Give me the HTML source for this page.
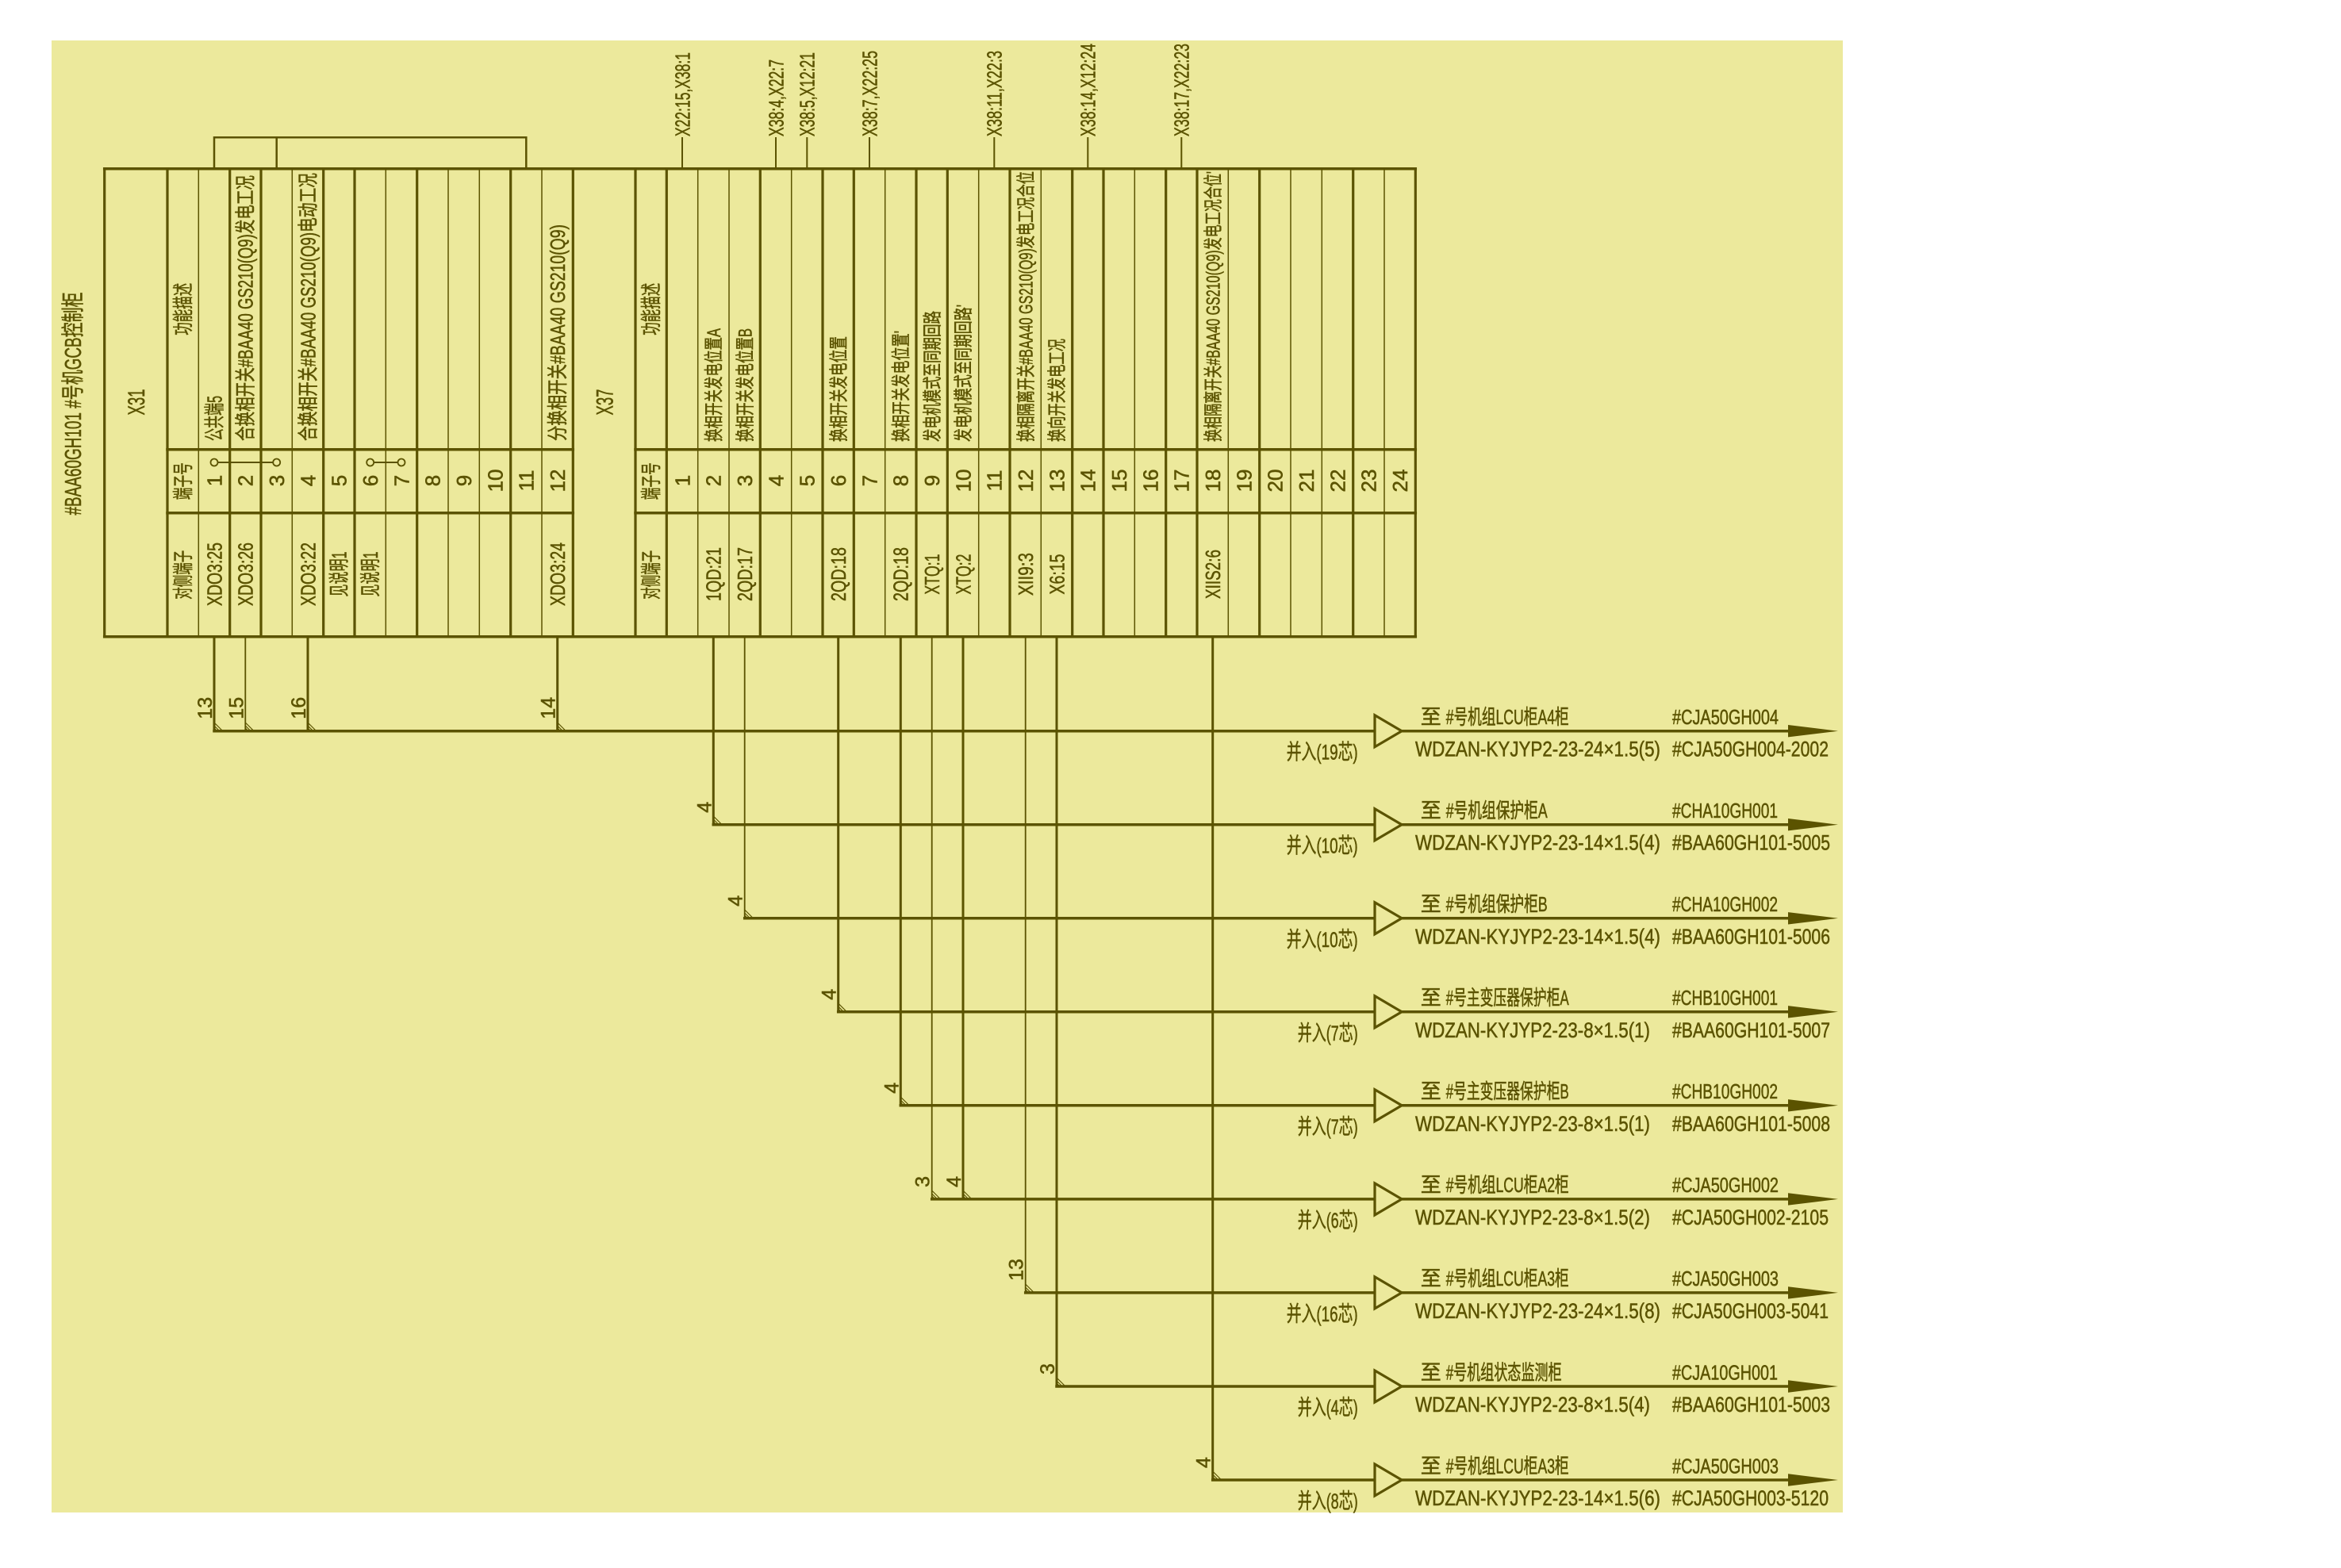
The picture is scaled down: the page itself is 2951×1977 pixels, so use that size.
<!DOCTYPE html>
<html><head><meta charset="utf-8">
<style>
html,body{margin:0;padding:0;background:#fff;}
svg{display:block;}
text{font-family:"Liberation Sans Narrow","Liberation Sans","Noto Sans CJK SC",sans-serif;fill:#5b5300;stroke:#5b5300;stroke-width:0.55;}
</style></head>
<body>
<svg width="2951" height="1977" viewBox="0 0 2951 1977" xmlns="http://www.w3.org/2000/svg">
<rect x="0" y="0" width="2951" height="1977" fill="#ffffff"/>
<rect x="65" y="51" width="2258" height="1856" fill="#ECE99C"/>
<g stroke="#5b5300" fill="none" stroke-linecap="square">
<polyline points="270,212.7 270,173.3 663.3,173.3 663.3,212.7" stroke-width="2.5"/>
<line x1="348.7" y1="173.3" x2="348.7" y2="212.7" stroke-width="2.5"/>
<g stroke-width="2">
<line x1="860" y1="174" x2="860" y2="212.7"/>
<line x1="978" y1="174" x2="978" y2="212.7"/>
<line x1="1017.3" y1="174" x2="1017.3" y2="212.7"/>
<line x1="1096" y1="174" x2="1096" y2="212.7"/>
<line x1="1253.3" y1="174" x2="1253.3" y2="212.7"/>
<line x1="1371.3" y1="174" x2="1371.3" y2="212.7"/>
<line x1="1489.3" y1="174" x2="1489.3" y2="212.7"/>
</g>
<line x1="131.7" y1="212.7" x2="1784.3" y2="212.7" stroke-width="3.5"/>
<line x1="131.7" y1="802.7" x2="1784.3" y2="802.7" stroke-width="3.5"/>
<line x1="211" y1="566.7" x2="722.3" y2="566.7" stroke-width="3.5"/>
<line x1="211" y1="646.7" x2="722.3" y2="646.7" stroke-width="3.5"/>
<line x1="801" y1="566.7" x2="1784.3" y2="566.7" stroke-width="3.5"/>
<line x1="801" y1="646.7" x2="1784.3" y2="646.7" stroke-width="3.5"/>
<g stroke-width="3.2">
<line x1="131.7" y1="212.7" x2="131.7" y2="802.7"/>
<line x1="211" y1="212.7" x2="211" y2="802.7"/>
<line x1="289.7" y1="212.7" x2="289.7" y2="802.7"/>
<line x1="329" y1="212.7" x2="329" y2="802.7"/>
<line x1="407.7" y1="212.7" x2="407.7" y2="802.7"/>
<line x1="447" y1="212.7" x2="447" y2="802.7"/>
<line x1="525.7" y1="212.7" x2="525.7" y2="802.7"/>
<line x1="643.7" y1="212.7" x2="643.7" y2="802.7"/>
<line x1="722.3" y1="212.7" x2="722.3" y2="802.7"/>
<line x1="801" y1="212.7" x2="801" y2="802.7"/>
<line x1="840.3" y1="212.7" x2="840.3" y2="802.7"/>
<line x1="958.3" y1="212.7" x2="958.3" y2="802.7"/>
<line x1="1037" y1="212.7" x2="1037" y2="802.7"/>
<line x1="1076.3" y1="212.7" x2="1076.3" y2="802.7"/>
<line x1="1155" y1="212.7" x2="1155" y2="802.7"/>
<line x1="1194.3" y1="212.7" x2="1194.3" y2="802.7"/>
<line x1="1273" y1="212.7" x2="1273" y2="802.7"/>
<line x1="1351.7" y1="212.7" x2="1351.7" y2="802.7"/>
<line x1="1391" y1="212.7" x2="1391" y2="802.7"/>
<line x1="1469.7" y1="212.7" x2="1469.7" y2="802.7"/>
<line x1="1509" y1="212.7" x2="1509" y2="802.7"/>
<line x1="1587.7" y1="212.7" x2="1587.7" y2="802.7"/>
<line x1="1705.7" y1="212.7" x2="1705.7" y2="802.7"/>
<line x1="1784.3" y1="212.7" x2="1784.3" y2="802.7"/>
</g>
<g stroke-width="1.5">
<line x1="250.3" y1="212.7" x2="250.3" y2="802.7"/>
<line x1="368.3" y1="212.7" x2="368.3" y2="802.7"/>
<line x1="486.3" y1="212.7" x2="486.3" y2="802.7"/>
<line x1="565" y1="212.7" x2="565" y2="802.7"/>
<line x1="604.3" y1="212.7" x2="604.3" y2="802.7"/>
<line x1="683" y1="212.7" x2="683" y2="802.7"/>
<line x1="879.7" y1="212.7" x2="879.7" y2="802.7"/>
<line x1="919" y1="212.7" x2="919" y2="802.7"/>
<line x1="997.7" y1="212.7" x2="997.7" y2="802.7"/>
<line x1="1115.7" y1="212.7" x2="1115.7" y2="802.7"/>
<line x1="1233.7" y1="212.7" x2="1233.7" y2="802.7"/>
<line x1="1312.3" y1="212.7" x2="1312.3" y2="802.7"/>
<line x1="1430.3" y1="212.7" x2="1430.3" y2="802.7"/>
<line x1="1548.3" y1="212.7" x2="1548.3" y2="802.7"/>
<line x1="1627" y1="212.7" x2="1627" y2="802.7"/>
<line x1="1666.3" y1="212.7" x2="1666.3" y2="802.7"/>
<line x1="1745" y1="212.7" x2="1745" y2="802.7"/>
</g>
<line x1="270" y1="583" x2="348.7" y2="583" stroke-width="2"/>
<line x1="466.7" y1="583" x2="506" y2="583" stroke-width="2"/>
<g fill="#ECE99C" stroke-width="1.8">
<circle cx="270" cy="583" r="4.5"/><circle cx="348.7" cy="583" r="4.5"/>
<circle cx="466.7" cy="583" r="4.5"/><circle cx="506" cy="583" r="4.5"/>
</g>
<g stroke-width="3">
<line x1="270" y1="802.7" x2="270" y2="921.7"/>
<line x1="309.3" y1="802.7" x2="309.3" y2="921.7" stroke-width="1.8"/>
<line x1="388" y1="802.7" x2="388" y2="921.7"/>
<line x1="702.7" y1="802.7" x2="702.7" y2="921.7"/>
<line x1="899.3" y1="802.7" x2="899.3" y2="1039.7"/>
<line x1="938.7" y1="802.7" x2="938.7" y2="1157.8" stroke-width="1.8"/>
<line x1="1056.7" y1="802.7" x2="1056.7" y2="1275.8"/>
<line x1="1135.3" y1="802.7" x2="1135.3" y2="1393.8"/>
<line x1="1174.7" y1="802.7" x2="1174.7" y2="1511.9" stroke-width="1.8"/>
<line x1="1214" y1="802.7" x2="1214" y2="1511.9"/>
<line x1="1292.7" y1="802.7" x2="1292.7" y2="1629.9" stroke-width="1.8"/>
<line x1="1332" y1="802.7" x2="1332" y2="1748"/>
<line x1="1528.7" y1="802.7" x2="1528.7" y2="1866"/>
</g>
<g stroke-width="3.5">
<line x1="270" y1="921.7" x2="2256" y2="921.7"/>
<line x1="899.3" y1="1039.7" x2="2256" y2="1039.7"/>
<line x1="938.7" y1="1157.8" x2="2256" y2="1157.8"/>
<line x1="1056.7" y1="1275.8" x2="2256" y2="1275.8"/>
<line x1="1135.3" y1="1393.8" x2="2256" y2="1393.8"/>
<line x1="1174.7" y1="1511.9" x2="2256" y2="1511.9"/>
<line x1="1292.7" y1="1629.9" x2="2256" y2="1629.9"/>
<line x1="1332" y1="1748" x2="2256" y2="1748"/>
<line x1="1528.7" y1="1866" x2="2256" y2="1866"/>
</g>
<g stroke-width="1.2">
<path d="M270 911 l10 10 M270 915 l6 6 M270 918 l3 3"/>
<path d="M309.3 911 l10 10 M309.3 915 l6 6 M309.3 918 l3 3"/>
<path d="M388 911 l10 10 M388 915 l6 6 M388 918 l3 3"/>
<path d="M702.7 911 l10 10 M702.7 915 l6 6 M702.7 918 l3 3"/>
<path d="M899.3 1029 l10 10 M899.3 1033 l6 6 M899.3 1036 l3 3"/>
<path d="M938.7 1147 l10 10 M938.7 1151 l6 6 M938.7 1154 l3 3"/>
<path d="M1056.7 1265 l10 10 M1056.7 1269 l6 6 M1056.7 1272 l3 3"/>
<path d="M1135.3 1383 l10 10 M1135.3 1387 l6 6 M1135.3 1390 l3 3"/>
<path d="M1174.7 1501 l10 10 M1174.7 1505 l6 6 M1174.7 1508 l3 3"/>
<path d="M1214 1501 l10 10 M1214 1505 l6 6 M1214 1508 l3 3"/>
<path d="M1292.7 1619 l10 10 M1292.7 1623 l6 6 M1292.7 1626 l3 3"/>
<path d="M1332 1737 l10 10 M1332 1741 l6 6 M1332 1744 l3 3"/>
<path d="M1528.7 1855 l10 10 M1528.7 1859 l6 6 M1528.7 1862 l3 3"/>
</g>
<g fill="#ECE99C" stroke-width="3.2" stroke-linejoin="miter">
<polygon points="1733,901.7 1767,921.7 1733,941.7"/>
<polygon points="1733,1019.7 1767,1039.7 1733,1059.7"/>
<polygon points="1733,1137.8 1767,1157.8 1733,1177.8"/>
<polygon points="1733,1255.8 1767,1275.8 1733,1295.8"/>
<polygon points="1733,1373.8 1767,1393.8 1733,1413.8"/>
<polygon points="1733,1491.9 1767,1511.9 1733,1531.9"/>
<polygon points="1733,1609.9 1767,1629.9 1733,1649.9"/>
<polygon points="1733,1728 1767,1748 1733,1768"/>
<polygon points="1733,1846 1767,1866 1733,1886"/>
</g>
</g>
<g fill="#5b5300">
<polygon points="2254,914 2317,921.7 2254,929.4"/>
<polygon points="2254,1032 2317,1039.7 2254,1047.4"/>
<polygon points="2254,1150.1 2317,1157.8 2254,1165.5"/>
<polygon points="2254,1268.1 2317,1275.8 2254,1283.5"/>
<polygon points="2254,1386.1 2317,1393.8 2254,1401.5"/>
<polygon points="2254,1504.2 2317,1511.9 2254,1519.6"/>
<polygon points="2254,1622.2 2317,1629.9 2254,1637.6"/>
<polygon points="2254,1740.3 2317,1748 2254,1755.7"/>
<polygon points="2254,1858.3 2317,1866 2254,1873.7"/>
</g>

<g font-size="26" lengthAdjust="spacingAndGlyphs">
<text font-size="29" transform="translate(102,649.5) rotate(-90)" textLength="281" lengthAdjust="spacingAndGlyphs">#BAA60GH101  #号机GCB控制柜</text>
<text font-size="30" text-anchor="middle" transform="translate(182,507) rotate(-90)" textLength="33" lengthAdjust="spacingAndGlyphs">X31</text>
<text font-size="30" text-anchor="middle" transform="translate(772.5,507) rotate(-90)" textLength="33" lengthAdjust="spacingAndGlyphs">X37</text>
<text transform="translate(869.3,172) rotate(-90)" textLength="106" lengthAdjust="spacingAndGlyphs">X22:15,X38:1</text>
<text transform="translate(987.3,172) rotate(-90)" textLength="97" lengthAdjust="spacingAndGlyphs">X38:4,X22:7</text>
<text transform="translate(1026.6,172) rotate(-90)" textLength="106" lengthAdjust="spacingAndGlyphs">X38:5,X12:21</text>
<text transform="translate(1105.3,172) rotate(-90)" textLength="108" lengthAdjust="spacingAndGlyphs">X38:7,X22:25</text>
<text transform="translate(1262.6,172) rotate(-90)" textLength="108" lengthAdjust="spacingAndGlyphs">X38:11,X22:3</text>
<text transform="translate(1380.6,172) rotate(-90)" textLength="117" lengthAdjust="spacingAndGlyphs">X38:14,X12:24</text>
<text transform="translate(1498.6,172) rotate(-90)" textLength="117" lengthAdjust="spacingAndGlyphs">X38:17,X22:23</text>
<text text-anchor="middle" transform="translate(239.9,389.7) rotate(-90)" textLength="66" lengthAdjust="spacingAndGlyphs">功能描述</text>
<text text-anchor="middle" transform="translate(239.9,606.7) rotate(-90)" textLength="47" lengthAdjust="spacingAndGlyphs">端子号</text>
<text text-anchor="middle" transform="translate(239.9,724.7) rotate(-90)" textLength="62" lengthAdjust="spacingAndGlyphs">对侧端子</text>
<text text-anchor="middle" transform="translate(829.9,389.7) rotate(-90)" textLength="66" lengthAdjust="spacingAndGlyphs">功能描述</text>
<text text-anchor="middle" transform="translate(829.9,606.7) rotate(-90)" textLength="47" lengthAdjust="spacingAndGlyphs">端子号</text>
<text text-anchor="middle" transform="translate(829.9,724.7) rotate(-90)" textLength="62" lengthAdjust="spacingAndGlyphs">对侧端子</text>
<text transform="translate(279.3,556) rotate(-90)" textLength="57" lengthAdjust="spacingAndGlyphs">公共端5</text>
<text transform="translate(318.6,556) rotate(-90)" textLength="335" lengthAdjust="spacingAndGlyphs">合换相开关#BAA40  GS210(Q9)发电工况</text>
<text transform="translate(397.3,556) rotate(-90)" textLength="338" lengthAdjust="spacingAndGlyphs">合换相开关#BAA40  GS210(Q9)电动工况</text>
<text transform="translate(712,556) rotate(-90)" textLength="273" lengthAdjust="spacingAndGlyphs">分换相开关#BAA40  GS210(Q9)</text>
<g font-size="24">
<text transform="translate(907.9,557) rotate(-90)" textLength="143" lengthAdjust="spacingAndGlyphs">换相开关发电位置A</text>
<text transform="translate(947.3,557) rotate(-90)" textLength="143" lengthAdjust="spacingAndGlyphs">换相开关发电位置B</text>
<text transform="translate(1065.3,557) rotate(-90)" textLength="133" lengthAdjust="spacingAndGlyphs">换相开关发电位置</text>
<text transform="translate(1143.9,557) rotate(-90)" textLength="140" lengthAdjust="spacingAndGlyphs">换相开关发电位置'</text>
<text transform="translate(1183.3,557) rotate(-90)" textLength="165" lengthAdjust="spacingAndGlyphs">发电机模式至同期回路</text>
<text transform="translate(1222.6,557) rotate(-90)" textLength="173" lengthAdjust="spacingAndGlyphs">发电机模式至同期回路'</text>
<text transform="translate(1301.3,557) rotate(-90)" textLength="341" lengthAdjust="spacingAndGlyphs">换相隔离开关#BAA40  GS210(Q9)发电工况合位</text>
<text transform="translate(1340.6,557) rotate(-90)" textLength="130" lengthAdjust="spacingAndGlyphs">换向开关发电工况</text>
<text transform="translate(1537.3,557) rotate(-90)" textLength="341" lengthAdjust="spacingAndGlyphs">换相隔离开关#BAA40  GS210(Q9)发电工况合位'</text>
</g>
<g text-anchor="middle">
<text transform="translate(279.3,606) rotate(-90)">1</text>
<text transform="translate(318.6,606) rotate(-90)">2</text>
<text transform="translate(358,606) rotate(-90)">3</text>
<text transform="translate(397.3,606) rotate(-90)">4</text>
<text transform="translate(436.6,606) rotate(-90)">5</text>
<text transform="translate(476,606) rotate(-90)">6</text>
<text transform="translate(515.3,606) rotate(-90)">7</text>
<text transform="translate(554.6,606) rotate(-90)">8</text>
<text transform="translate(594,606) rotate(-90)">9</text>
<text transform="translate(633.3,606) rotate(-90)">10</text>
<text transform="translate(672.6,606) rotate(-90)">11</text>
<text transform="translate(712,606) rotate(-90)">12</text>
<text transform="translate(869.3,606) rotate(-90)">1</text>
<text transform="translate(908.6,606) rotate(-90)">2</text>
<text transform="translate(948,606) rotate(-90)">3</text>
<text transform="translate(987.3,606) rotate(-90)">4</text>
<text transform="translate(1026.6,606) rotate(-90)">5</text>
<text transform="translate(1066,606) rotate(-90)">6</text>
<text transform="translate(1105.3,606) rotate(-90)">7</text>
<text transform="translate(1144.6,606) rotate(-90)">8</text>
<text transform="translate(1184,606) rotate(-90)">9</text>
<text transform="translate(1223.3,606) rotate(-90)">10</text>
<text transform="translate(1262.6,606) rotate(-90)">11</text>
<text transform="translate(1302,606) rotate(-90)">12</text>
<text transform="translate(1341.3,606) rotate(-90)">13</text>
<text transform="translate(1380.6,606) rotate(-90)">14</text>
<text transform="translate(1420,606) rotate(-90)">15</text>
<text transform="translate(1459.3,606) rotate(-90)">16</text>
<text transform="translate(1498.6,606) rotate(-90)">17</text>
<text transform="translate(1538,606) rotate(-90)">18</text>
<text transform="translate(1577.3,606) rotate(-90)">19</text>
<text transform="translate(1616.6,606) rotate(-90)">20</text>
<text transform="translate(1656,606) rotate(-90)">21</text>
<text transform="translate(1695.3,606) rotate(-90)">22</text>
<text transform="translate(1734.6,606) rotate(-90)">23</text>
<text transform="translate(1774,606) rotate(-90)">24</text>
<text transform="translate(279.3,724) rotate(-90)" textLength="80" lengthAdjust="spacingAndGlyphs">XDO3:25</text>
<text transform="translate(318.6,724) rotate(-90)" textLength="80" lengthAdjust="spacingAndGlyphs">XDO3:26</text>
<text transform="translate(397.3,724) rotate(-90)" textLength="80" lengthAdjust="spacingAndGlyphs">XDO3:22</text>
<text transform="translate(436.6,724) rotate(-90)" textLength="57" lengthAdjust="spacingAndGlyphs">见说明1</text>
<text transform="translate(476,724) rotate(-90)" textLength="57" lengthAdjust="spacingAndGlyphs">见说明1</text>
<text transform="translate(712,724) rotate(-90)" textLength="80" lengthAdjust="spacingAndGlyphs">XDO3:24</text>
<text transform="translate(908.6,724) rotate(-90)" textLength="68" lengthAdjust="spacingAndGlyphs">1QD:21</text>
<text transform="translate(948,724) rotate(-90)" textLength="68" lengthAdjust="spacingAndGlyphs">2QD:17</text>
<text transform="translate(1066,724) rotate(-90)" textLength="68" lengthAdjust="spacingAndGlyphs">2QD:18</text>
<text transform="translate(1144.6,724) rotate(-90)" textLength="68" lengthAdjust="spacingAndGlyphs">2QD:18</text>
<text transform="translate(1184,724) rotate(-90)" textLength="51" lengthAdjust="spacingAndGlyphs">XTQ:1</text>
<text transform="translate(1223.3,724) rotate(-90)" textLength="51" lengthAdjust="spacingAndGlyphs">XTQ:2</text>
<text transform="translate(1302,724) rotate(-90)" textLength="54" lengthAdjust="spacingAndGlyphs">XII9:3</text>
<text transform="translate(1341.3,724) rotate(-90)" textLength="51" lengthAdjust="spacingAndGlyphs">X6:15</text>
<text transform="translate(1538,724) rotate(-90)" textLength="62" lengthAdjust="spacingAndGlyphs">XIIS2:6</text>
</g>
<g font-size="25">
<text transform="translate(267,906.7) rotate(-90)">13</text>
<text transform="translate(306.3,906.7) rotate(-90)">15</text>
<text transform="translate(385,906.7) rotate(-90)">16</text>
<text transform="translate(699.7,906.7) rotate(-90)">14</text>
<text transform="translate(896.3,1024.7) rotate(-90)">4</text>
<text transform="translate(935.7,1142.8) rotate(-90)">4</text>
<text transform="translate(1053.7,1260.8) rotate(-90)">4</text>
<text transform="translate(1132.3,1378.8) rotate(-90)">4</text>
<text transform="translate(1171.7,1496.9) rotate(-90)">3</text>
<text transform="translate(1211,1496.9) rotate(-90)">4</text>
<text transform="translate(1289.7,1614.9) rotate(-90)">13</text>
<text transform="translate(1329,1733) rotate(-90)">3</text>
<text transform="translate(1525.7,1851) rotate(-90)">4</text>
</g>
<g>
<text x="1711.7" y="957.7" font-size="27" text-anchor="end" textLength="90" lengthAdjust="spacingAndGlyphs">并入(19芯)</text>
<text x="1790.7" y="913">至</text>
<text x="1822.7" y="913" textLength="155" lengthAdjust="spacingAndGlyphs">#号机组LCU柜A4柜</text>
<text x="2108" y="913" textLength="134" lengthAdjust="spacingAndGlyphs">#CJA50GH004</text>
<text x="1784" y="953.7" font-size="27" textLength="309" lengthAdjust="spacingAndGlyphs">WDZAN-KYJYP2-23-24×1.5(5)</text>
<text x="2108" y="953.7" font-size="27" textLength="197" lengthAdjust="spacingAndGlyphs">#CJA50GH004-2002</text>

<text x="1711.7" y="1075.7" font-size="27" text-anchor="end" textLength="90" lengthAdjust="spacingAndGlyphs">并入(10芯)</text>
<text x="1790.7" y="1031">至</text>
<text x="1822.7" y="1031" textLength="128" lengthAdjust="spacingAndGlyphs">#号机组保护柜A</text>
<text x="2108" y="1031" textLength="133" lengthAdjust="spacingAndGlyphs">#CHA10GH001</text>
<text x="1784" y="1071.7" font-size="27" textLength="309" lengthAdjust="spacingAndGlyphs">WDZAN-KYJYP2-23-14×1.5(4)</text>
<text x="2108" y="1071.7" font-size="27" textLength="199" lengthAdjust="spacingAndGlyphs">#BAA60GH101-5005</text>

<text x="1711.7" y="1193.8" font-size="27" text-anchor="end" textLength="90" lengthAdjust="spacingAndGlyphs">并入(10芯)</text>
<text x="1790.7" y="1149.1">至</text>
<text x="1822.7" y="1149.1" textLength="128" lengthAdjust="spacingAndGlyphs">#号机组保护柜B</text>
<text x="2108" y="1149.1" textLength="133" lengthAdjust="spacingAndGlyphs">#CHA10GH002</text>
<text x="1784" y="1189.8" font-size="27" textLength="309" lengthAdjust="spacingAndGlyphs">WDZAN-KYJYP2-23-14×1.5(4)</text>
<text x="2108" y="1189.8" font-size="27" textLength="199" lengthAdjust="spacingAndGlyphs">#BAA60GH101-5006</text>

<text x="1711.7" y="1311.8" font-size="27" text-anchor="end" textLength="76" lengthAdjust="spacingAndGlyphs">并入(7芯)</text>
<text x="1790.7" y="1267.1">至</text>
<text x="1822.7" y="1267.1" textLength="155" lengthAdjust="spacingAndGlyphs">#号主变压器保护柜A</text>
<text x="2108" y="1267.1" textLength="133" lengthAdjust="spacingAndGlyphs">#CHB10GH001</text>
<text x="1784" y="1307.8" font-size="27" textLength="296" lengthAdjust="spacingAndGlyphs">WDZAN-KYJYP2-23-8×1.5(1)</text>
<text x="2108" y="1307.8" font-size="27" textLength="199" lengthAdjust="spacingAndGlyphs">#BAA60GH101-5007</text>

<text x="1711.7" y="1429.8" font-size="27" text-anchor="end" textLength="76" lengthAdjust="spacingAndGlyphs">并入(7芯)</text>
<text x="1790.7" y="1385.1">至</text>
<text x="1822.7" y="1385.1" textLength="155" lengthAdjust="spacingAndGlyphs">#号主变压器保护柜B</text>
<text x="2108" y="1385.1" textLength="133" lengthAdjust="spacingAndGlyphs">#CHB10GH002</text>
<text x="1784" y="1425.8" font-size="27" textLength="296" lengthAdjust="spacingAndGlyphs">WDZAN-KYJYP2-23-8×1.5(1)</text>
<text x="2108" y="1425.8" font-size="27" textLength="199" lengthAdjust="spacingAndGlyphs">#BAA60GH101-5008</text>

<text x="1711.7" y="1547.9" font-size="27" text-anchor="end" textLength="76" lengthAdjust="spacingAndGlyphs">并入(6芯)</text>
<text x="1790.7" y="1503.2">至</text>
<text x="1822.7" y="1503.2" textLength="155" lengthAdjust="spacingAndGlyphs">#号机组LCU柜A2柜</text>
<text x="2108" y="1503.2" textLength="134" lengthAdjust="spacingAndGlyphs">#CJA50GH002</text>
<text x="1784" y="1543.9" font-size="27" textLength="296" lengthAdjust="spacingAndGlyphs">WDZAN-KYJYP2-23-8×1.5(2)</text>
<text x="2108" y="1543.9" font-size="27" textLength="197" lengthAdjust="spacingAndGlyphs">#CJA50GH002-2105</text>

<text x="1711.7" y="1665.9" font-size="27" text-anchor="end" textLength="90" lengthAdjust="spacingAndGlyphs">并入(16芯)</text>
<text x="1790.7" y="1621.2">至</text>
<text x="1822.7" y="1621.2" textLength="155" lengthAdjust="spacingAndGlyphs">#号机组LCU柜A3柜</text>
<text x="2108" y="1621.2" textLength="134" lengthAdjust="spacingAndGlyphs">#CJA50GH003</text>
<text x="1784" y="1661.9" font-size="27" textLength="309" lengthAdjust="spacingAndGlyphs">WDZAN-KYJYP2-23-24×1.5(8)</text>
<text x="2108" y="1661.9" font-size="27" textLength="197" lengthAdjust="spacingAndGlyphs">#CJA50GH003-5041</text>

<text x="1711.7" y="1784" font-size="27" text-anchor="end" textLength="76" lengthAdjust="spacingAndGlyphs">并入(4芯)</text>
<text x="1790.7" y="1739.3">至</text>
<text x="1822.7" y="1739.3" textLength="146" lengthAdjust="spacingAndGlyphs">#号机组状态监测柜</text>
<text x="2108" y="1739.3" textLength="133" lengthAdjust="spacingAndGlyphs">#CJA10GH001</text>
<text x="1784" y="1780" font-size="27" textLength="296" lengthAdjust="spacingAndGlyphs">WDZAN-KYJYP2-23-8×1.5(4)</text>
<text x="2108" y="1780" font-size="27" textLength="199" lengthAdjust="spacingAndGlyphs">#BAA60GH101-5003</text>

<text x="1711.7" y="1902" font-size="27" text-anchor="end" textLength="76" lengthAdjust="spacingAndGlyphs">并入(8芯)</text>
<text x="1790.7" y="1857.3">至</text>
<text x="1822.7" y="1857.3" textLength="155" lengthAdjust="spacingAndGlyphs">#号机组LCU柜A3柜</text>
<text x="2108" y="1857.3" textLength="134" lengthAdjust="spacingAndGlyphs">#CJA50GH003</text>
<text x="1784" y="1898" font-size="27" textLength="309" lengthAdjust="spacingAndGlyphs">WDZAN-KYJYP2-23-14×1.5(6)</text>
<text x="2108" y="1898" font-size="27" textLength="197" lengthAdjust="spacingAndGlyphs">#CJA50GH003-5120</text>
</g>
</g>
</svg>
</body></html>
